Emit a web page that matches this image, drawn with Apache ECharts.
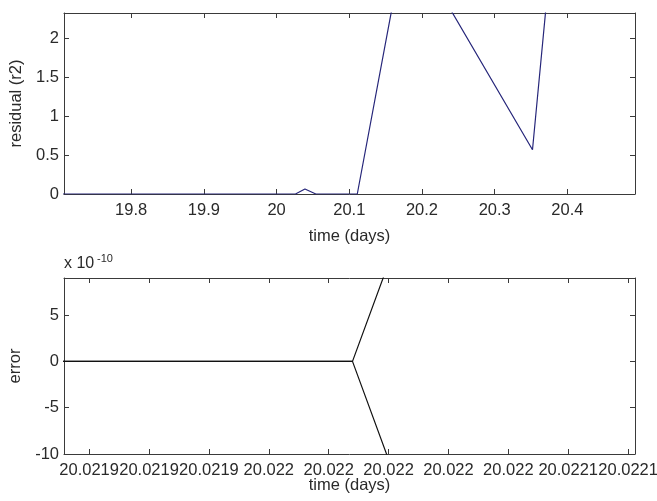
<!DOCTYPE html>
<html>
<head>
<meta charset="utf-8">
<script src="https://cdn.jsdelivr.net/npm/echarts@6/dist/echarts.min.js"></script>
<style>
html,body{margin:0;padding:0;background:#fff;}
#chart{width:657px;height:501px;}
</style>
</head>
<body>
<div id="chart"></div>
<script>
// ---- data ----
var topTime     = [19.70, 20.026, 20.039, 20.054, 20.111, 20.178, 20.352, 20.39];
var topResidual = [0, 0, 0.065, 0, 0, 3.34, 0.567, 4.3];
var topXTicks   = [19.8, 19.9, 20.0, 20.1, 20.2, 20.3, 20.4];
var topYTicks   = [0, 0.5, 1, 1.5, 2];

var errTime  = [20.02189, 20.02198795, 20.022000];
var errUpper = [0, 0, 10.6];   // units of 1e-10
var errLower = [0, 0, -10.6];  // units of 1e-10
var errXTicks = [20.0219, 20.02192, 20.02194, 20.02196, 20.02198, 20.022, 20.02202, 20.02204, 20.02206, 20.02208];
var errYTicks = [-10, -5, 0, 5];

function zip(a, b){ return a.map(function(v, i){ return [v, b[i]]; }); }
function matlabFmt(v){ return String(parseFloat(Number(v).toPrecision(6))); }

var FONT = 'Liberation Sans, Arial, sans-serif';
var FS = 16.5;
var TXT = '#2a2a2a';
var AX = '#3a3a3a';

function xAx(gi, min, max, ticks, top, extra){
  var o = {
    type: 'value', gridIndex: gi, min: min, max: max, position: top ? 'top' : 'bottom',
    splitLine: {show: false},
    axisLine: {show: true, onZero: false, lineStyle: {color: AX, width: 1}},
    axisTick: {show: true, inside: true, length: 5, customValues: ticks, lineStyle: {color: AX}},
    axisLabel: {show: !top, customValues: ticks, formatter: matlabFmt, color: TXT, fontSize: FS, fontFamily: FONT,
                hideOverlap: false},
  };
  for (var k in extra) o[k] = extra[k];
  return o;
}
function yAx(gi, min, max, ticks, right, extra){
  var o = {
    type: 'value', gridIndex: gi, min: min, max: max, position: right ? 'right' : 'left',
    splitLine: {show: false},
    axisLine: {show: true, onZero: false, lineStyle: {color: AX, width: 1}},
    axisTick: {show: true, inside: true, length: 5, customValues: ticks, lineStyle: {color: AX}},
    axisLabel: {show: !right, customValues: ticks, formatter: function(v){ return String(v); }, color: TXT, fontSize: FS, fontFamily: FONT, margin: 5},
  };
  for (var k in extra) o[k] = extra[k];
  return o;
}

var nameStyle = {color: TXT, fontSize: FS, fontFamily: FONT};

var chart = echarts.init(document.getElementById('chart'), null, {renderer: 'canvas'});
chart.setOption({
  animation: false,
  backgroundColor: '#ffffff',
  grid: [
    {left: 64, right: 22, top: 13, height: 181, containLabel: false, outerBoundsMode: 'none'},
    {left: 64, right: 22, top: 278, height: 176, containLabel: false, outerBoundsMode: 'none'}
  ],
  xAxis: [
    xAx(0, 19.7076, 20.493, topXTicks, false, {name: 'time (days)', nameLocation: 'middle', nameGap: 34, nameTextStyle: nameStyle}),
    xAx(0, 19.7076, 20.493, topXTicks, true, {}),
    xAx(1, 20.0218916, 20.0220823, errXTicks, false, {name: 'time (days)', nameLocation: 'middle', nameGap: 23, nameMoveOverlap: false, nameTextStyle: nameStyle}),
    xAx(1, 20.0218916, 20.0220823, errXTicks, true, {})
  ],
  yAxis: [
    yAx(0, 0, 2.32, topYTicks, false, {name: 'residual (r2)', nameLocation: 'middle', nameGap: 35, nameTextStyle: nameStyle}),
    yAx(0, 0, 2.32, topYTicks, true, {}),
    yAx(1, -10, 9, errYTicks, false, {name: 'error', nameLocation: 'middle', nameGap: 35, nameTextStyle: nameStyle}),
    yAx(1, -10, 9, errYTicks, true, {})
  ],
  graphic: [
    {type: 'text', left: 64, top: 256, style: {text: 'x 10', fill: TXT, font: '16px ' + FONT}},
    {type: 'text', left: 97, top: 253, style: {text: '-10', fill: TXT, font: '11px ' + FONT}}
  ],
  series: [
    {type: 'line', xAxisIndex: 0, yAxisIndex: 0, data: zip(topTime, topResidual), showSymbol: false, clip: true, z: 5,
     lineStyle: {color: '#26267a', width: 1.2}, itemStyle: {color: '#26267a'}},
    {type: 'line', xAxisIndex: 2, yAxisIndex: 2, data: zip(errTime, errUpper), showSymbol: false, clip: true,
     lineStyle: {color: '#111111', width: 1.2}, itemStyle: {color: '#111'}},
    {type: 'line', xAxisIndex: 2, yAxisIndex: 2, data: zip(errTime, errLower), showSymbol: false, clip: true,
     lineStyle: {color: '#111111', width: 1.2}, itemStyle: {color: '#111'}}
  ]
});
</script>
</body>
</html>
